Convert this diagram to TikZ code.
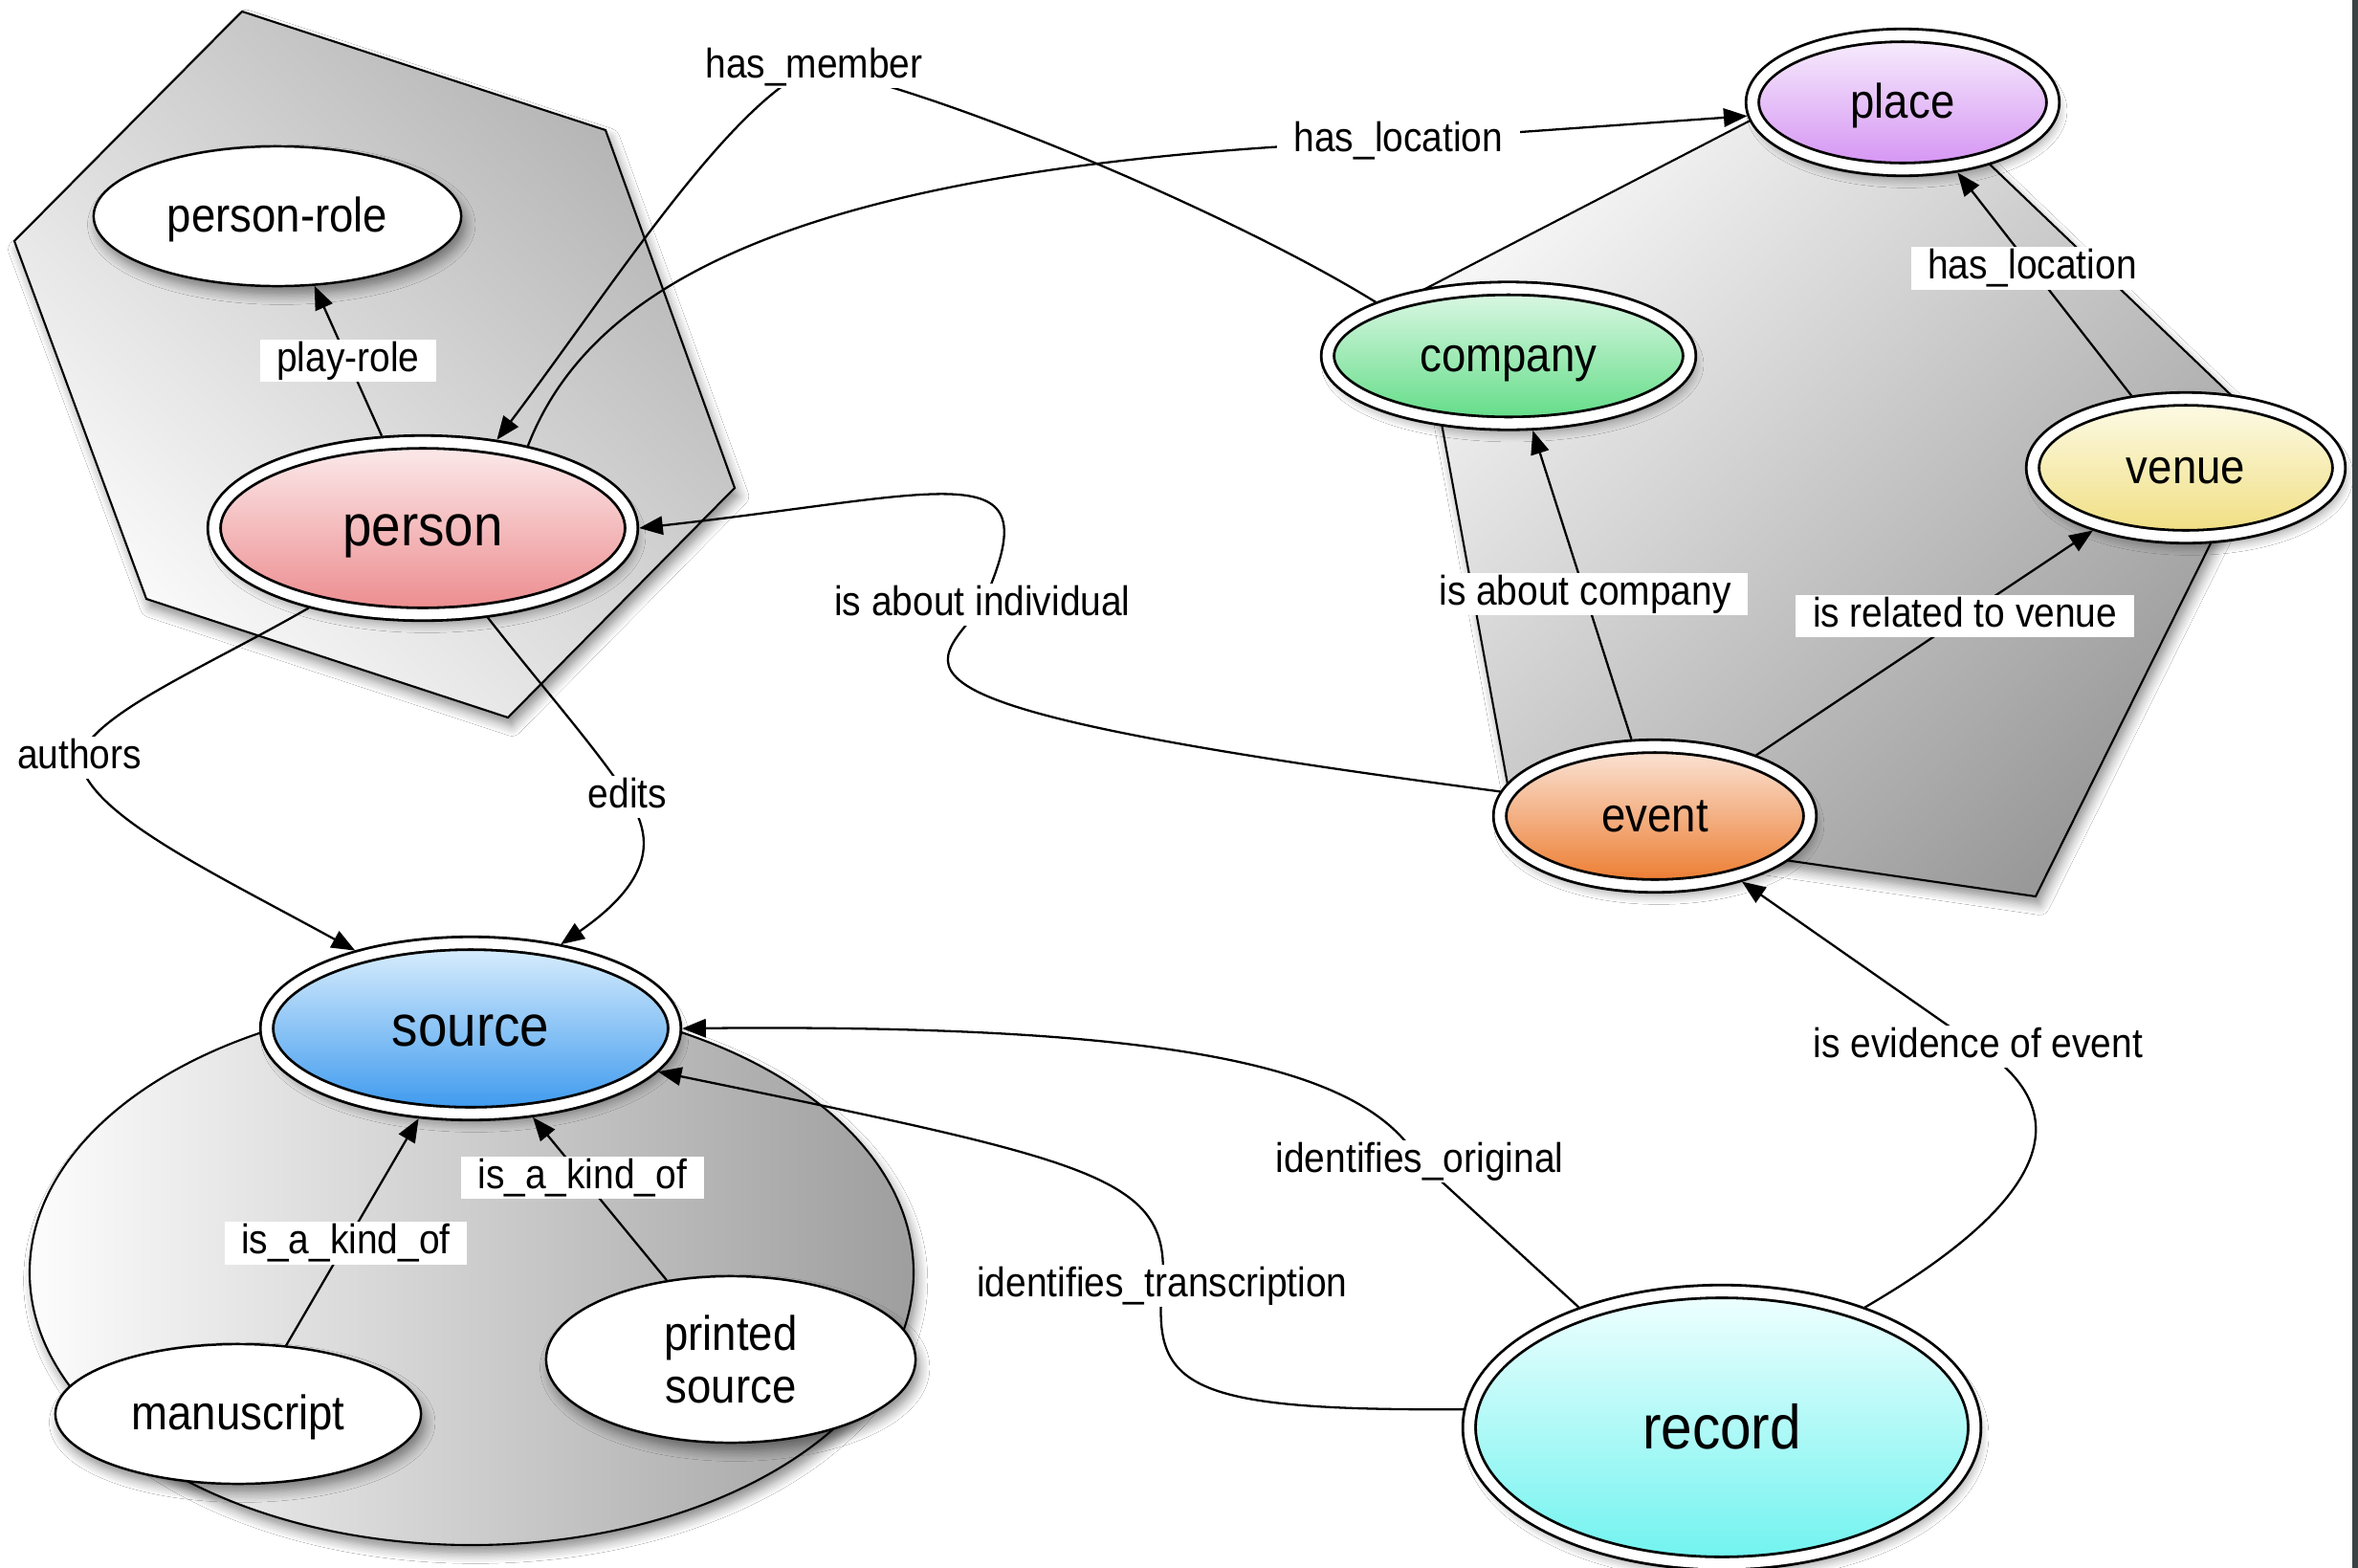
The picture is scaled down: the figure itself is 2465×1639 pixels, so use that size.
\documentclass[tikz,border=0pt]{standalone}
\usepackage{fontspec}
\setmainfont{Liberation Sans}[FakeStretch=0.9]
\usetikzlibrary{shapes.geometric,arrows.meta,shadows.blur}
\definecolor{edgestrip}{RGB}{58,66,68}
\definecolor{personT}{RGB}{252,236,237}\definecolor{personB}{RGB}{236,138,140}
\definecolor{companyT}{RGB}{222,248,230}\definecolor{companyB}{RGB}{95,220,133}
\definecolor{placeT}{RGB}{248,239,253}\definecolor{placeB}{RGB}{212,146,243}
\definecolor{venueT}{RGB}{253,251,232}\definecolor{venueB}{RGB}{240,222,128}
\definecolor{eventT}{RGB}{251,230,218}\definecolor{eventB}{RGB}{236,122,44}
\definecolor{sourceT}{RGB}{220,239,253}\definecolor{sourceB}{RGB}{58,152,238}
\definecolor{recordT}{RGB}{240,255,255}\definecolor{recordB}{RGB}{111,243,239}
\newcommand{\nfont}{\fontsize{14.4}{17}\selectfont}
\newcommand{\bigfont}{\fontsize{17.3}{20}\selectfont}
\newcommand{\recfont}{\fontsize{18.5}{22}\selectfont}
\newcommand{\lfont}{\fontsize{12.3}{14}\selectfont}
\begin{document}
\begin{tikzpicture}[x=0.01cm,y=-0.01cm,
  shad/.style={blur shadow={shadow xshift=1.2pt,shadow yshift=-2.5pt,shadow blur radius=3pt,shadow blur steps=8,shadow opacity=45}},
  container/.style={draw=black,line width=0.6pt,shad},
  dnode/.style={ellipse,draw=black,line width=0.8pt,double=white,double distance=3pt,outer sep=2.3pt,inner sep=0pt,shad,font=\nfont,text height=9.5pt,text depth=0pt},
  pnode/.style={ellipse,draw=black,line width=0.7pt,fill=white,outer sep=0.35pt,inner sep=0pt,shad,font=\nfont,align=center},
  lbl/.style={fill=white,font=\lfont,inner xsep=5pt,inner ysep=0.5pt,text height=9pt,text depth=2.6pt},
  rel/.style={draw=black,line width=0.65pt,-{Triangle[length=7pt,width=5.5pt]}},
  fperson/.style={top color=personT,bottom color=personB},
  fcompany/.style={top color=companyT,bottom color=companyB},
  fplace/.style={top color=placeT,bottom color=placeB},
  fvenue/.style={top color=venueT,bottom color=venueB},
  fevent/.style={top color=eventT,bottom color=eventB},
  fsource/.style={top color=sourceT,bottom color=sourceB},
  frecord/.style={top color=recordT,bottom color=recordB}
]
\useasboundingbox (0,0) rectangle (2465,1639);
\fill[white] (0,0) rectangle (2465,1639);
\fill[edgestrip] (2459,0) rectangle (2465,1639);

% containers
\path[container,top color=black!30,bottom color=black!1,shading angle=-45]
  (253,12) -- (633,136) -- (768,510) -- (531,750) -- (153,626) -- (15,252) -- cycle;
\path[container,top color=black!3,bottom color=black!40,shading angle=45]
  (1961,58) -- (2370,449) -- (2128,937) -- (1583,858) -- (1482,306) -- cycle;
\path[container,left color=black!1,right color=black!38]
  (493,1330) ellipse [x radius=462, y radius=285];

% nodes
\node[pnode,text height=9.5pt,text depth=0pt,minimum width=3.84cm,minimum height=1.46cm] (personrole) at (290,226) {person-role};
\node[dnode,fperson,font=\bigfont,text height=10.5pt,minimum width=4.36cm,minimum height=1.80cm] (person) at (442,552) {person};
\node[dnode,fplace,minimum width=3.14cm,minimum height=1.40cm] (place) at (1989,107) {place};
\node[dnode,fcompany,minimum width=3.78cm,minimum height=1.41cm] (company) at (1577,372) {company};
\node[dnode,fvenue,minimum width=3.20cm,minimum height=1.44cm] (venue) at (2285,489) {venue};
\node[dnode,fevent,minimum width=3.24cm,minimum height=1.46cm] (event) at (1730,853) {event};
\node[dnode,fsource,font=\bigfont,text height=10.5pt,minimum width=4.26cm,minimum height=1.78cm] (source) at (492,1075) {source};
\node[dnode,frecord,font=\recfont,text height=13pt,minimum width=5.28cm,minimum height=2.84cm] (record) at (1800,1492) {record};
\node[pnode,text height=9.5pt,text depth=0pt,minimum width=3.82cm,minimum height=1.46cm] (manuscript) at (249,1478) {manuscript};
\node[pnode,minimum width=3.86cm,minimum height=1.74cm] (printed) at (764,1421) {printed\\[-1.5pt]source};

% connectors
\draw[rel] (person.114) -- node[lbl]{play-role} (personrole.298);
\draw[rel] (company.158) .. controls (1300,230) and (1000,100) .. (851,70)
  node[lbl]{has\_member} .. controls (760,110) and (640,300) .. (person.50);
\draw[rel] (person.38) .. controls (620,290) and (850,170) .. (1462,147)
  node[lbl]{has\_location} -- (place.185);
\draw[rel] (venue.127) -- node[lbl,pos=0.57]{has\_location} (place.308);
\draw[rel] (event.107) -- node[lbl,pos=0.47]{is about company} (company.288);
\draw[rel] (event.31) -- node[lbl,pos=0.62]{is related to venue} (venue.214);
\draw[rel] (event.171) .. controls (880,737) and (975,702) .. (1027,632)
  node[lbl]{is about individual} .. controls (1100,470) and (1000,515) .. (person.0);
\draw[rel] (person.215) .. controls (210,700) and (100,745) .. (83,792)
  node[lbl]{authors} .. controls (90,850) and (217,909) .. (source.146);
\draw[rel] (person.306) .. controls (560,710) and (630,790) .. (656,833)
  node[lbl]{edits} .. controls (680,870) and (690,915) .. (source.43);
\draw[rel] (record.140) -- (1484,1214)
  node[lbl]{identifies\_original} .. controls (1430,1120) and (1250,1070) .. (source.0);
\draw[rel] (record.176) .. controls (1240,1475) and (1205,1450) .. (1215,1344)
  node[lbl]{identifies\_transcription} .. controls (1225,1230) and (1150,1215) .. (source.347);
\draw[rel] (record.40) .. controls (2150,1250) and (2170,1160) .. (2068,1094)
  node[lbl]{is evidence of event} -- (event.323);
\draw[rel] (manuscript.55) -- node[lbl,pos=0.45]{is\_a\_kind\_of} (source.240);
\draw[rel] (printed.129) -- node[lbl,pos=0.63]{is\_a\_kind\_of} (source.305);
\end{tikzpicture}
\end{document}
